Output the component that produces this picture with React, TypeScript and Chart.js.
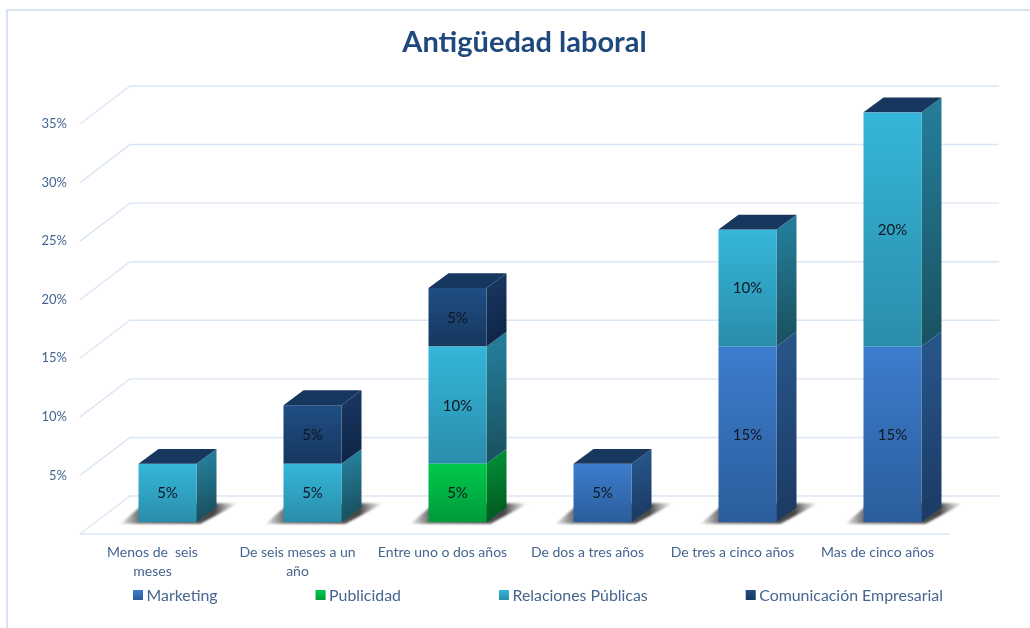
import React, { useEffect, useRef } from "react";
import { Chart, registerables } from "chart.js";

Chart.register(...registerables);

const categories = [
  ["Menos de  seis", "meses"],
  ["De seis meses a un", "año"],
  "Entre uno o dos años",
  "De dos a tres años",
  "De tres a cinco años",
  "Mas de cinco años",
];
const marketing = [0, 0, 0, 5, 15, 15];
const publicidad = [0, 0, 5, 0, 0, 0];
const relaciones = [5, 5, 10, 0, 10, 20];
const comunicacion = [0, 5, 5, 0, 0, 0];
const seriesNames = ["Marketing", "Publicidad", "Relaciones Públicas", "Comunicación Empresarial"];
const seriesValues = [marketing, publicidad, relaciones, comunicacion];
const frontTop = ["#3C7DCE", "#00C94B", "#35B6DA", "#1F4E84"];
const frontBottom = ["#2B5D9B", "#009B3A", "#2A8DAA", "#16375F"];
const sideTop = ["#275488", "#008A33", "#247C98", "#17355E"];
const sideBottom = ["#1C3C66", "#005F22", "#1A5464", "#10264A"];
const topColor = "#17375E";
const gridColor = "#DBE6F5";
const axisText = "#45658F";
const FONT = "Lato";

const WALL_DX = 50;
const WALL_DY = -38;
const BAR_SHIFT_X = 15;
const BAR_SHIFT_Y = -11.7;
const SIDE_DX = 20;
const SIDE_DY = -14.8;

const stackBase = (d: number, i: number) => {
  let s = 0;
  for (let k = 0; k < d; k++) s += seriesValues[k][i];
  return s;
};

const framePlugin = {
  id: "frameAndWall",
  afterLayout(chart: any) {
    if (chart.titleBlock) {
      chart.titleBlock.left = 0;
      chart.titleBlock.right = 1049;
    }
  },
  beforeDraw(chart: any) {
    const { ctx } = chart;
    ctx.save();
    ctx.strokeStyle = "#D6E4F5";
    ctx.lineWidth = 2;
    ctx.beginPath();
    ctx.moveTo(1030, 10);
    ctx.lineTo(7, 10);
    ctx.lineTo(7, 628);
    ctx.stroke();
    ctx.restore();
  },
  beforeDatasetsDraw(chart: any) {
    const { ctx, chartArea } = chart;
    const yScale = chart.scales.y;
    ctx.save();
    ctx.strokeStyle = gridColor;
    ctx.lineWidth = 1.4;
    yScale.ticks.forEach((t: any) => {
      const y = yScale.getPixelForValue(t.value);
      ctx.beginPath();
      ctx.moveTo(chartArea.left, y);
      ctx.lineTo(chartArea.left + WALL_DX, y + WALL_DY);
      ctx.lineTo(chartArea.right + WALL_DX - 1, y + WALL_DY);
      ctx.stroke();
    });
    const y0 = yScale.getPixelForValue(0);
    ctx.beginPath();
    ctx.moveTo(chartArea.left, y0);
    ctx.lineTo(chartArea.right, y0);
    ctx.stroke();
    ctx.restore();

    // everything in the bar plane sits further back than the axis plane
    ctx.save();
    ctx.translate(BAR_SHIFT_X, BAR_SHIFT_Y);
    const metas = seriesValues.map((_, d) => chart.getDatasetMeta(d));
    categories.forEach((_, i) => {
      const first = metas[0].data[i];
      const L = first.x - first.width / 2;
      const R = first.x + first.width / 2;
      const B = first.base;
      const grad = ctx.createLinearGradient(L - 20, 0, R + 42, 0);
      const span = R + 42 - (L - 20);
      grad.addColorStop(0, "rgba(90,90,90,0)");
      grad.addColorStop(20 / span, "rgba(90,90,90,0.85)");
      grad.addColorStop((R + 18 - (L - 20)) / span, "rgba(60,60,60,0.95)");
      grad.addColorStop(1, "rgba(120,120,120,0)");
      ctx.save();
      ctx.filter = "blur(1px)";
      ctx.fillStyle = grad;
      ctx.beginPath();
      ctx.moveTo(L - 18, B + 1.5);
      ctx.lineTo(L + 6, B - 19);
      ctx.lineTo(R + 42, B - 19);
      ctx.lineTo(R + 4, B + 1.5);
      ctx.closePath();
      ctx.fill();
      ctx.restore();
      seriesValues.forEach((vals, d) => {
        if (!vals[i]) return;
        const el = metas[d].data[i];
        const right = el.x + el.width / 2;
        const g = ctx.createLinearGradient(right, el.y, right + SIDE_DX, el.base + SIDE_DY);
        g.addColorStop(0, sideTop[d]);
        g.addColorStop(1, sideBottom[d]);
        ctx.fillStyle = g;
        ctx.beginPath();
        ctx.moveTo(right, el.y);
        ctx.lineTo(right + SIDE_DX, el.y + SIDE_DY);
        ctx.lineTo(right + SIDE_DX, el.base + SIDE_DY);
        ctx.lineTo(right, el.base);
        ctx.closePath();
        ctx.fill();
      });
    });
  },
  afterDatasetsDraw(chart: any) {
    const { ctx } = chart;
    const metas = seriesValues.map((_, d) => chart.getDatasetMeta(d));
    categories.forEach((_, i) => {
      let topEl: any = null;
      seriesValues.forEach((vals, d) => {
        if (vals[i]) topEl = metas[d].data[i];
      });
      if (!topEl) return;
      const L = topEl.x - topEl.width / 2;
      const R = topEl.x + topEl.width / 2;
      ctx.fillStyle = topColor;
      ctx.beginPath();
      ctx.moveTo(L, topEl.y);
      ctx.lineTo(L + SIDE_DX, topEl.y + SIDE_DY);
      ctx.lineTo(R + SIDE_DX, topEl.y + SIDE_DY);
      ctx.lineTo(R, topEl.y);
      ctx.closePath();
      ctx.fill();
    });
    ctx.fillStyle = "#10161F";
    ctx.font = `15px ${FONT}`;
    ctx.textAlign = "center";
    ctx.textBaseline = "middle";
    seriesValues.forEach((vals, d) => {
      vals.forEach((v, i) => {
        if (!v) return;
        const el = metas[d].data[i];
        ctx.fillText(`${v}%`, el.x, (el.y + el.base) / 2 + 0.5);
      });
    });
    ctx.restore();
  },
  afterDraw(chart: any) {
    const { ctx } = chart;
    ctx.save();
    ctx.font = `15.9px ${FONT}`;
    ctx.textBaseline = "middle";
    ctx.textAlign = "left";
    let x = 133;
    const yc = 595;
    chart.data.datasets.forEach((ds: any, d: number) => {
      const g = ctx.createLinearGradient(0, yc - 5, 0, yc + 5);
      g.addColorStop(0, frontTop[d]);
      g.addColorStop(1, frontBottom[d]);
      ctx.fillStyle = g;
      ctx.fillRect(x, yc - 5, 10, 10);
      ctx.fillStyle = axisText;
      ctx.fillText(ds.label, x + 13.5, yc + 1);
      x += 13.5 + ctx.measureText(ds.label).width + 98;
    });
    ctx.restore();
  },
};

export default function App() {
  const ref = useRef<HTMLCanvasElement>(null);
  useEffect(() => {
    const chart = new Chart(ref.current as HTMLCanvasElement, {
      type: "bar",
      data: {
        labels: categories as any,
        datasets: seriesValues.map((vals, d) => ({
          label: seriesNames[d],
          data: vals,
          categoryPercentage: 1,
          barPercentage: 0.4,
          borderWidth: 0,
          backgroundColor: (c: any) => {
            if (c.type !== "data") return frontTop[d];
            const y = c.chart.scales.y;
            const base = stackBase(d, c.dataIndex);
            const y1 = y.getPixelForValue(base + vals[c.dataIndex]);
            const y2 = y.getPixelForValue(base);
            if (!Number.isFinite(y1) || !Number.isFinite(y2)) return frontTop[d];
            const g = c.chart.ctx.createLinearGradient(0, y1, 0, y2);
            g.addColorStop(0, frontTop[d]);
            g.addColorStop(1, frontBottom[d]);
            return g;
          },
        })),
      },
      options: {
        responsive: false,
        animation: false,
        layout: { padding: { right: 80 } },
        plugins: {
          legend: { display: false },
          tooltip: { enabled: false },
          title: {
            display: true,
            text: "Antigüedad laboral",
            color: "#1F497D",
            font: { family: FONT, size: 29, weight: "bold" },
            padding: { top: 25.6, bottom: 63.6 },
          },
        },
        scales: {
          x: {
            stacked: true,
            grid: { display: false, drawTicks: false },
            border: { display: false },
            afterFit: (s: any) => {
              s.height = 94;
            },
            ticks: {
              color: axisText,
              font: { family: FONT, size: 14, lineHeight: 1.36 },
              padding: 9,
              maxRotation: 0,
              autoSkip: false,
            },
          },
          y: {
            stacked: true,
            min: 0,
            max: 35,
            grid: { display: false, drawTicks: false },
            border: { display: false },
            afterFit: (s: any) => {
              s.width = 80;
            },
            ticks: {
              stepSize: 5,
              color: axisText,
              font: { family: FONT, size: 13 },
              padding: 13,
              callback: (v: any) => (v === 0 ? "" : `${v}%`),
            },
          },
        },
      } as any,
      plugins: [framePlugin],
    });
    return () => chart.destroy();
  }, []);
  return (
    <div style={{ position: "absolute", left: 0, top: 0, width: 1030, height: 628, background: "#fff" }}>
      <canvas ref={ref} width={1030} height={628} style={{ display: "block" }} />
    </div>
  );
}
